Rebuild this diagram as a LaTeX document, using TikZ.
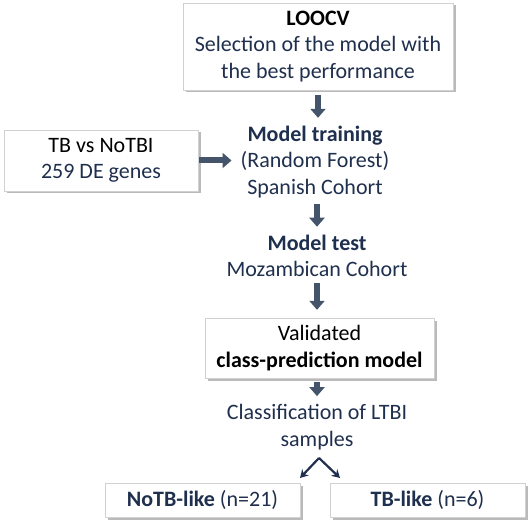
\documentclass[tikz,border=0pt]{standalone}
\usepackage{fontspec}
\setmainfont{Carlito}
\usetikzlibrary{positioning,shadows,arrows.meta}
\definecolor{navy}{RGB}{31,47,78}
\definecolor{slate}{RGB}{68,84,106}

\begin{document}
\begin{tikzpicture}[x=1pt, y=-1pt, line join=round,
    every node/.style={font=\fontsize{22}{26.5}\selectfont, text=navy, align=center, inner sep=0pt},
    box/.style={draw=black!18, fill=white, drop shadow={shadow xshift=2.5pt, shadow yshift=-2.5pt, fill=black!45, opacity=0.6}},
    blockarrow/.style={draw=slate, line width=6pt, -{Triangle[width=15pt, length=9pt]}},
    split/.style={draw=navy, line width=2.2pt, -{Stealth[width=9pt, length=8pt]}}]
    \useasboundingbox (0,0) rectangle (532,526);

    % boxes and texts
    \node[box, minimum width=270, minimum height=87] (loocv) at (318,46.5)
        {{\bfseries\color{black}LOOCV}\\Selection of the model with\\the best performance};
    \node[box, minimum width=194, minimum height=61] (genes) at (101,160.5)
        {{\color{black}TB vs NoTBI}\\259 DE genes};
    \node (train) at (315,162) {\bfseries Model training\\(Random Forest)\\Spanish Cohort};
    \node (test) at (317,256) {\bfseries Model test\\Mozambican Cohort};
    \node[box, minimum width=229, minimum height=60, text=black] (valid) at (319.5,348)
        {Validated\\\bfseries class-prediction model};
    \node (classif) at (317,427) {Classification of LTBI\\samples};
    \node[box, minimum width=195, minimum height=34] (notb) at (202.5,500) {\textbf{NoTB-like} (n=21)};
    \node[box, minimum width=195, minimum height=34] (tb) at (427.5,500) {\textbf{TB-like} (n=6)};

    % arrows
    \draw[blockarrow, shorten <=5pt, shorten >=8pt] (loocv.south) -- (train.north -| loocv.south);
    \draw[blockarrow, shorten <=1pt, shorten >=9pt] (genes.east) -- (train.west |- genes.east);
    \draw[blockarrow, shorten <=6pt, shorten >=8pt] (train.south -| test) -- (test.north);
    \draw[blockarrow, shorten <=6pt, shorten >=8pt] (test.south) -- (valid.north -| test);
    \draw[blockarrow, shorten <=4pt, shorten >=8pt] (valid.south -| test) -- (classif.north -| test);
    \coordinate (apex) at (319,458);
    \draw[split] (apex) -- (300,478);
    \draw[split] (apex) -- (340,478);
\end{tikzpicture}
\end{document}
